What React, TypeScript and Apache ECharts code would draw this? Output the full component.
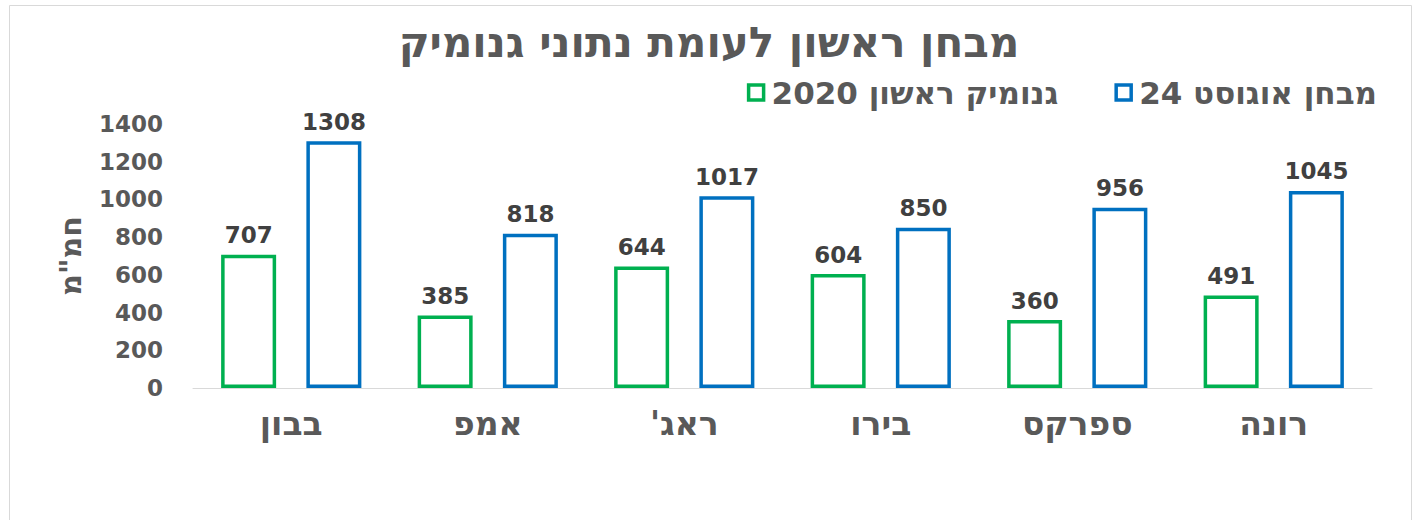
import React, { useEffect, useRef } from "react";
import * as echarts from "echarts";

const titleText = "מבחן ראשון לעומת נתוני גנומיק";
const categories = ["בבון", "אמפ", "ראג'\u200F", "בירו", "ספרקס", "רונה"];
const seriesNames = ["גנומיק ראשון 2020", "מבחן אוגוסט 24"];
const values2020 = [707, 385, 644, 604, 360, 491];
const valuesAug24 = [1308, 818, 1017, 850, 956, 1045];
const yAxisName = 'חמ"מ';
const yMin = 0;
const yMax = 1400;
const yInterval = 200;

const GREEN = "#00B050";
const BLUE = "#0070C0";
const TEXT = "#595959";
const LABEL = "#404040";
const FONT = "'DejaVu Sans', 'Liberation Sans', sans-serif";

export default function App() {
  const ref = useRef<HTMLDivElement>(null);
  useEffect(() => {
    document.body.style.margin = "0";
    if (!ref.current) return;
    const chart = echarts.init(ref.current, undefined, { renderer: "svg" });
    const barCommon = {
      type: "bar" as const,
      barWidth: 55,
      barGap: "55%",
      label: {
        show: true,
        position: "top" as const,
        distance: 8,
        color: LABEL,
        fontFamily: FONT,
        fontWeight: "bold" as const,
        fontSize: 23,
      },
    };
    chart.setOption({
      animation: false,
      backgroundColor: "#ffffff",
      graphic: [
        {
          type: "rect",
          shape: { x: 9.5, y: 5.5, width: 1402, height: 540 },
          style: { fill: "none", stroke: "#D9D9D9", lineWidth: 1 },
          silent: true,
          z: -10,
        },
      ],
      title: {
        text: titleText,
        left: "center",
        top: 16,
        textStyle: {
          color: TEXT,
          fontFamily: FONT,
          fontWeight: "bold",
          fontSize: 42,
        },
      },
      legend: {
        right: 36,
        top: 72,
        icon: "rect",
        itemWidth: 15,
        itemHeight: 15,
        itemGap: 56,
        data: [seriesNames[0], seriesNames[1]],
        itemStyle: { borderWidth: 3.5 },
        textStyle: {
          color: TEXT,
          fontFamily: FONT,
          fontWeight: "bold",
          fontSize: 31,
          padding: [0, 0, 0, 3],
        },
      },
      grid: { left: 193, right: 46, top: 124, bottom: 132, containLabel: false },
      xAxis: {
        type: "category",
        data: categories,
        axisLine: { show: true, lineStyle: { color: "#D9D9D9", width: 1 } },
        axisTick: { show: false },
        axisLabel: {
          color: TEXT,
          fontFamily: FONT,
          fontWeight: "bold",
          fontSize: 33,
          margin: 19,
        },
      },
      yAxis: {
        type: "value",
        min: yMin,
        max: yMax,
        interval: yInterval,
        name: yAxisName,
        nameLocation: "middle",
        nameGap: 108,
        nameTextStyle: {
          color: TEXT,
          fontFamily: FONT,
          fontWeight: "bold",
          fontSize: 30,
        },
        axisLine: { show: false },
        axisTick: { show: false },
        splitLine: { show: false },
        axisLabel: {
          color: TEXT,
          fontFamily: FONT,
          fontWeight: "bold",
          fontSize: 23,
          margin: 30,
          formatter: (v: number) => String(v),
        },
      },
      series: [
        {
          ...barCommon,
          name: seriesNames[0],
          data: values2020,
          itemStyle: { color: "#ffffff", borderColor: GREEN, borderWidth: 3.5 },
        },
        {
          ...barCommon,
          name: seriesNames[1],
          data: valuesAug24,
          itemStyle: { color: "#ffffff", borderColor: BLUE, borderWidth: 3.5 },
        },
      ],
    });
    return () => chart.dispose();
  }, []);
  return <div ref={ref} style={{ width: 1418, height: 520 }} />;
}
